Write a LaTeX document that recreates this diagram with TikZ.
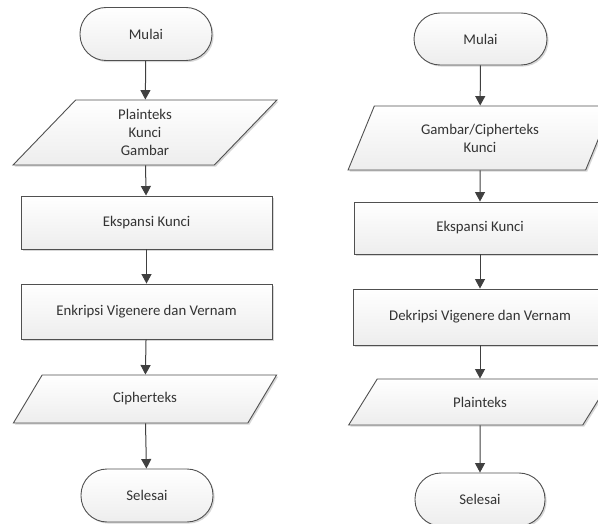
\documentclass[tikz,border=0pt]{standalone}
\usepackage{fontspec}
\setmainfont{Carlito}
\usetikzlibrary{arrows.meta,shapes.geometric,shadows}
\definecolor{edge}{HTML}{505050}
\definecolor{txt}{HTML}{333333}
\definecolor{arr}{HTML}{404040}
\tikzset{
  base/.style={draw=edge, line width=0.9pt, top color=white, bottom color=black!7,
    text=txt, font=\fontsize{14.8}{18}\selectfont, align=center, inner sep=0pt,
    drop shadow={shadow xshift=1.6pt, shadow yshift=-1.6pt, fill=black!35, opacity=0.45}},
  term/.style={base, rectangle, rounded corners=26pt, minimum width=132pt, minimum height=53pt},
  proc/.style={base, rectangle, minimum width=251pt, minimum height=54pt},
  io/.style={base, trapezium, trapezium stretches=true, trapezium left angle=#1,
    trapezium right angle={180-#1}},
  flow/.style={draw=arr, line width=1pt, -{Triangle[width=10pt,length=9.5pt]}}
}
\begin{document}
\begin{tikzpicture}[x=1pt,y=-1pt]
\useasboundingbox (0,0) rectangle (598,524);
\clip (0,0) rectangle (598,524);
% left column
\node[term] (m1) at (146,34) {Mulai};
\node[io=62.4, minimum width=264pt, minimum height=65pt] (i1) at (145,132.5) {Plainteks\\Kunci\\Gambar};
\node[proc, minimum height=53pt] (e1) at (146.5,222.5) {Ekspansi Kunci};
\node[proc, minimum height=55pt] (k1) at (146.5,311.5) {Enkripsi Vigenere dan Vernam};
\node[io=54.8, minimum width=264pt, minimum height=48pt] (c1) at (145,399) {Cipherteks};
\node[term] (s1) at (147,495.5) {Selesai};
% right column
\node[term, minimum width=133pt, minimum height=52pt] (m2) at (480.5,39) {Mulai};
\node[io=62.7, minimum width=264pt, minimum height=64pt] (i2) at (480,138) {Gambar/Cipherteks\\Kunci};
\node[proc, minimum width=252pt, minimum height=52pt] (e2) at (480,228) {Ekspansi Kunci};
\node[proc, minimum width=254pt, minimum height=56pt] (d2) at (480,317) {Dekripsi Vigenere dan Vernam};
\node[io=54.3, minimum width=264pt, minimum height=46pt] (p2) at (480,402) {Plainteks};
\node[term, minimum width=130pt] (s2) at (480,499.5) {Selesai};
% connectors
\draw[flow] (m1) -- (i1);
\draw[flow] (i1) -- (e1);
\draw[flow] (e1) -- (k1);
\draw[flow] (k1) -- (c1);
\draw[flow] (c1) -- (s1);
\draw[flow] (m2) -- (i2);
\draw[flow] (i2) -- (e2);
\draw[flow] (e2) -- (d2);
\draw[flow] (d2) -- (p2);
\draw[flow] (p2) -- (s2);
\end{tikzpicture}
\end{document}
